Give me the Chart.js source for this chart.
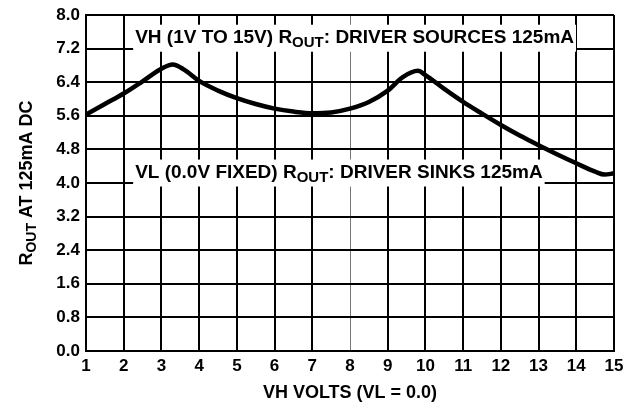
<!DOCTYPE html>
<html>
<head>
<meta charset="utf-8">
<script src="https://cdn.jsdelivr.net/npm/chart.js@4.4.1/dist/chart.umd.min.js"></script>
<style>
  html, body { margin: 0; padding: 0; background: #fff; }
  #wrap { width: 624px; height: 404px; }
</style>
</head>
<body>
<div id="wrap"><canvas id="rout"></canvas></div>
<script>
// VH sweep (volts) and ROUT at 125mA
const vhVolts  = [1, 1.5, 2, 2.5, 3, 3.3, 3.6, 4, 4.5, 5, 5.5, 6, 6.5, 7, 7.5, 8, 8.5, 9, 9.4, 9.8, 10, 10.5, 11, 11.5, 12, 12.5, 13, 13.5, 14, 14.5, 14.75, 15];
const routOhms = [5.63, 5.88, 6.13, 6.42, 6.72, 6.82, 6.70, 6.43, 6.20, 6.02, 5.88, 5.77, 5.70, 5.66, 5.68, 5.77, 5.93, 6.20, 6.52, 6.67, 6.57, 6.24, 5.93, 5.65, 5.38, 5.13, 4.90, 4.68, 4.47, 4.27, 4.20, 4.23];

const xTicks = [1, 2, 3, 4, 5, 6, 7, 8, 9, 10, 11, 12, 13, 14, 15];
const yTicks = [0.0, 0.8, 1.6, 2.4, 3.2, 4.0, 4.8, 5.6, 6.4, 7.2, 8.0];

// boxed notes, anchored in data units (left edge, text baseline)
const noteText = [
  ['VH (1V TO 15V) R', ': DRIVER SOURCES 125mA'],
  ['VL (0.0V FIXED) R', ': DRIVER SINKS 125mA']
];
const noteX = [2.25, 2.25];
const noteY = [7.34, 4.13];

const FONT = "'Liberation Sans', Arial, sans-serif";

const notesPlugin = {
  id: 'notes',
  beforeDatasetsDraw(chart) {
    const {ctx, scales: {x, y}} = chart;
    ctx.save();
    noteText.forEach((t, i) => {
      const left = x.getPixelForValue(noteX[i]);
      const base = y.getPixelForValue(noteY[i]);
      ctx.font = 'bold 19px ' + FONT;
      const w1 = ctx.measureText(t[0]).width;
      const w3 = ctx.measureText(t[1]).width;
      ctx.font = 'bold 15px ' + FONT;
      const w2 = ctx.measureText('OUT').width;
      ctx.fillStyle = '#fff';
      ctx.fillRect(left, base - 18, w1 + w2 + w3 + 4, 27);
      ctx.fillStyle = '#000';
      ctx.textBaseline = 'alphabetic';
      ctx.textAlign = 'left';
      ctx.font = 'bold 19px ' + FONT;
      ctx.fillText(t[0], left + 2, base);
      ctx.fillText(t[1], left + 2 + w1 + w2, base);
      ctx.font = 'bold 15px ' + FONT;
      ctx.fillText('OUT', left + 2 + w1, base + 4);
    });
    ctx.restore();
  },
  afterDraw(chart) {
    const {ctx, chartArea: a} = chart;
    ctx.save();
    ctx.fillStyle = '#000';
    ctx.textBaseline = 'alphabetic';
    // x title
    ctx.font = 'bold 18px ' + FONT;
    ctx.textAlign = 'center';
    ctx.fillText('VH VOLTS (VL = 0.0)', (a.left + a.right) / 2, chart.height - 6);
    // y title with subscript
    ctx.translate(31.5, (a.top + a.bottom) / 2);
    ctx.rotate(-Math.PI / 2);
    ctx.textAlign = 'left';
    const p1 = 'R', p3 = ' AT 125mA DC';
    ctx.font = 'bold 18px ' + FONT;
    const w1 = ctx.measureText(p1).width, w3 = ctx.measureText(p3).width;
    ctx.font = 'bold 14px ' + FONT;
    const w2 = ctx.measureText('OUT').width;
    let sx = -(w1 + w2 + w3) / 2;
    ctx.font = 'bold 18px ' + FONT;
    ctx.fillText(p1, sx, 0);
    ctx.fillText(p3, sx + w1 + w2, 0);
    ctx.font = 'bold 14px ' + FONT;
    ctx.fillText('OUT', sx + w1, 4);
    ctx.restore();
  }
};

const gridColor = c => (c.tick && c.tick.value === 8 && c.scale.axis === 'x') ? '#777' : '#000';
const gridWidth = c => (c.tick && c.tick.value === 8 && c.scale.axis === 'x') ? 1 : 2;

new Chart(document.getElementById('rout'), {
  type: 'line',
  data: {
    datasets: [{
      data: vhVolts.map((v, i) => ({x: v, y: routOhms[i]})),
      borderColor: '#000',
      borderWidth: 4.5,
      pointRadius: 0,
      cubicInterpolationMode: 'monotone',
      borderCapStyle: 'round',
      borderJoinStyle: 'round',
      fill: false
    }]
  },
  options: {
    responsive: true,
    maintainAspectRatio: false,
    animation: false,
    layout: { padding: 0 },
    plugins: { legend: { display: false }, tooltip: { enabled: false } },
    scales: {
      x: {
        type: 'linear',
        min: 1, max: 15,
        afterBuildTicks: s => { s.ticks = xTicks.map(v => ({value: v})); },
        afterFit: s => { s.height = 53; s.paddingRight = 10; s.paddingLeft = 0; },
        grid: { color: gridColor, lineWidth: gridWidth, drawTicks: false },
        border: { color: '#000', width: 2 },
        ticks: {
          color: '#000', padding: 5,
          font: { family: FONT, size: 17, weight: 'bold' },
          callback: v => String(v)
        }
      },
      y: {
        min: 0, max: 8,
        afterBuildTicks: s => { s.ticks = yTicks.map(v => ({value: v})); },
        afterFit: s => { s.width = 86; s.paddingTop = 15; s.paddingBottom = 0; },
        grid: { color: '#000', lineWidth: 2, drawTicks: false },
        border: { color: '#000', width: 2 },
        ticks: {
          color: '#000', padding: 6,
          font: { family: FONT, size: 17, weight: 'bold' },
          callback: v => v.toFixed(1)
        }
      }
    }
  },
  plugins: [notesPlugin]
});
</script>
</body>
</html>
